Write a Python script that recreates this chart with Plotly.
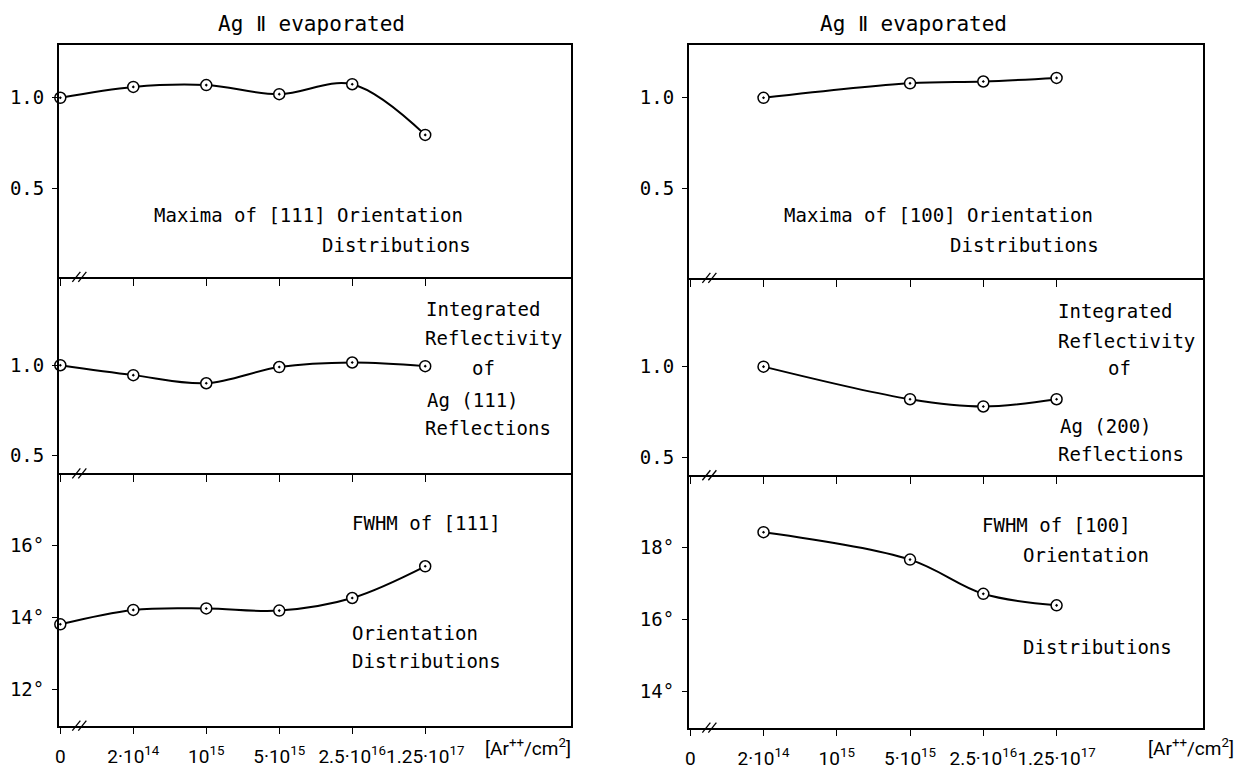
import plotly.graph_objects as go

# ---------------- data ----------------
doses = ["0", "2·10<sup>14</sup>", "10<sup>15</sup>", "5·10<sup>15</sup>",
         "2.5·10<sup>16</sup>", "1.25·10<sup>17</sup>"]
doses_right = ["2·10<sup>14</sup>", "5·10<sup>15</sup>", "2.5·10<sup>16</sup>", "1.25·10<sup>17</sup>"]

max111 = [1.00, 1.06, 1.07, 1.02, 1.075, 0.795]
refl111 = [1.00, 0.945, 0.90, 0.99, 1.015, 0.995]
fwhm111 = [13.81, 14.21, 14.25, 14.19, 14.54, 15.42]

max100 = [1.00, 1.08, 1.09, 1.11]
refl200 = [1.00, 0.82, 0.78, 0.82]
fwhm100 = [18.42, 17.66, 16.71, 16.39]

# page is 1242x778; the html body has an 8px margin
PAGE_W, PAGE_H, BODY = 1242, 778, 8
W, H = PAGE_W - 2 * BODY, PAGE_H - 2 * BODY
MONO = "DejaVu Sans Mono"
TICKF = "Roboto"


def px(x):
    return (x - BODY) / W


def py(y):
    return 1 - (y - BODY) / H


fig = go.Figure()

# panel geometry (page pixels)
xdom_L = [px(55), px(569)]
xdom_R = [px(687), px(1203)]
ydoms_L = [(46, 282), (282, 482), (482, 739)]
ydoms_R = [(46, 283), (283, 484), (484, 741)]

panels = [
    ("L", 0, doses, max111, [0.01, 1.29], [0.5, 1.0], ["0.5", "1.0"]),
    ("L", 1, doses, refl111, [0.40, 1.49], [0.5, 1.0], ["0.5", "1.0"]),
    ("L", 2, doses, fwhm111, [11.0, 18.0], [12, 14, 16], ["12°", "14°", "16°"]),
    ("R", 0, doses_right, max100, [0.005, 1.29], [0.5, 1.0], ["0.5", "1.0"]),
    ("R", 1, doses_right, refl200, [0.40, 1.49], [0.5, 1.0], ["0.5", "1.0"]),
    ("R", 2, doses_right, fwhm100, [13.0, 20.0], [14, 16, 18], ["14°", "16°", "18°"]),
]

shapes = []
for i, (col, row, xs, ys, yr, tv, tt) in enumerate(panels):
    n = i + 1
    xa = "x" if n == 1 else f"x{n}"
    ya = "y" if n == 1 else f"y{n}"
    fig.add_trace(go.Scatter(
        x=xs, y=ys, xaxis=xa, yaxis=ya, mode="lines+markers",
        line=dict(color="black", width=2, shape="spline", smoothing=1.0),
        marker=dict(symbol="circle-dot", size=11, color="white",
                    line=dict(color="black", width=1.5)),
        showlegend=False, hoverinfo="skip", cliponaxis=False,
    ))
    xdom = xdom_L if col == "L" else xdom_R
    yd = (ydoms_L if col == "L" else ydoms_R)[row]
    ydom = [py(yd[1]), py(yd[0])]
    bottom = row == 2
    fig.layout[f"xaxis{'' if n == 1 else n}"] = dict(
        domain=xdom, anchor=ya, type="category",
        categoryorder="array", categoryarray=doses,
        range=[-0.02, 7.0], showgrid=False, zeroline=False,
        showline=True, linecolor="black", linewidth=1.6, mirror=(row == 0),
        ticks="outside", ticklen=7, tickwidth=1.3, tickcolor="black",
        showticklabels=bottom, tickangle=0, ticklabelstandoff=6,
        tickfont=dict(family=TICKF, size=19, color="black"),
    )
    fig.layout[f"yaxis{'' if n == 1 else n}"] = dict(
        domain=ydom, anchor=xa, range=yr, showgrid=False, zeroline=False,
        showline=True, linecolor="black", linewidth=1.6, mirror=True,
        ticks="outside", ticklen=5, tickwidth=1.3, tickcolor="black",
        tickvals=tv, ticktext=tt, ticklabelstandoff=4,
        tickfont=dict(family=MONO, size=19, color="black"),
    )
    # break marks "//" on the bottom boundary of each panel
    bx = xdom[0] + (xdom[1] - xdom[0]) * 0.04
    by = ydom[0]
    for off in (-3, 3):
        shapes.append(dict(
            type="line", xref="paper", yref="paper",
            xsizemode="pixel", ysizemode="pixel",
            xanchor=bx, yanchor=by,
            x0=off - 4, x1=off + 4, y0=-5, y1=5,
            line=dict(color="black", width=1.3),
        ))

fig.update_layout(shapes=shapes)

ann = []


def text(t, x, y, xanchor="left", size=19, family=MONO):
    ann.append(dict(text=t, x=px(x), y=py(y), xref="paper", yref="paper",
                    xanchor=xanchor, yanchor="middle", showarrow=False,
                    font=dict(family=family, size=size, color="black")))


text("Ag Ⅱ evaporated", 308, 24, "center", 21)
text("Ag Ⅱ evaporated", 912, 24, "center", 21)

text("Maxima of [111] Orientation", 148, 219)
text("Distributions", 471, 249, "right")
text("Maxima of [100] Orientation", 781, 219)
text("Distributions", 1101, 249, "right")

text("Integrated", 421, 315)
text("Reflectivity", 420, 344)
text("of", 467, 375)
text("Ag (111)", 422, 407)
text("Reflections", 420, 436)

text("Integrated", 1055, 317)
text("Reflectivity", 1055, 347)
text("of", 1106, 375)
text("Ag (200)", 1057, 434)
text("Reflections", 1055, 462)

text("FWHM of [111]", 347, 533)
text("Orientation", 347, 645)
text("Distributions", 347, 673)

text("FWHM of [100]", 979, 535)
text("Orientation", 1020, 565)
text("Distributions", 1020, 659)

text("[Ar<sup>++</sup>/cm<sup>2</sup>]", 481, 761, "left", 19, TICKF)
text("[Ar<sup>++</sup>/cm<sup>2</sup>]", 1146, 761, "left", 19, TICKF)

fig.update_layout(
    annotations=ann,
    width=W, height=H,
    margin=dict(l=0, r=0, t=0, b=0),
    paper_bgcolor="white", plot_bgcolor="white",
    showlegend=False,
)

fig.write_html("out.html")
